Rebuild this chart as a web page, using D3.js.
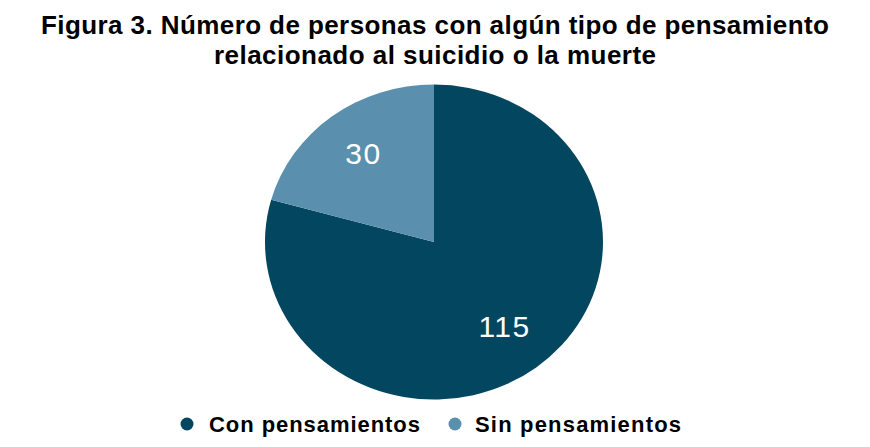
<!DOCTYPE html>
<html>
<head>
<meta charset="utf-8">
<script src="https://cdn.jsdelivr.net/npm/d3@7"></script>
<style>
  body { margin: 0; background: #fff; }
  svg { display: block; font-family: "Liberation Sans", Arial, sans-serif; }
</style>
</head>
<body>
<div id="chart"></div>
<script>
// chart data
const categories = ["Con pensamientos", "Sin pensamientos"];
const values = [115, 30];
const sliceColors = ["#03465f", "#5a90ae"];
const titleLines = [
  "Figura 3. Número de personas con algún tipo de pensamiento",
  "relacionado al suicidio o la muerte"
];

const width = 870, height = 447;
const cx = 434, cy = 242;
const rx = 169, ry = 157.5;

const svg = d3.select('#chart')
  .append('svg')
  .attr('width', width)
  .attr('height', height);

// title (the original renders wider, so stretch the spacing a little)
const titleWidths = [788, 442];
svg.append('g')
  .selectAll('text')
  .data(titleLines)
  .enter()
  .append('text')
  .attr('x', width / 2)
  .attr('y', (d, i) => 34 + i * 30)
  .attr('text-anchor', 'middle')
  .attr('font-size', 26)
  .attr('font-weight', 'bold')
  .attr('fill', '#000')
  .attr('textLength', (d, i) => titleWidths[i])
  .attr('lengthAdjust', 'spacing')
  .text(d => d);

const dataset = categories.map((c, i) => ({ label: c, count: values[i] }));

const color = d3.scaleOrdinal()
  .domain(categories)
  .range(sliceColors);

const pie = d3.pie()
  .value(d => d.count)
  .sort(null);

const arc = d3.arc()
  .innerRadius(0)
  .outerRadius(rx);

const labelArc = d3.arc()
  .innerRadius(rx * 0.69)
  .outerRadius(rx * 0.69);

// the original pie is slightly squashed vertically
const g = svg.append('g')
  .attr('transform', `translate(${cx},${cy}) scale(1,${ry / rx})`);

const arcs = pie(dataset);

g.selectAll('path')
  .data(arcs)
  .enter()
  .append('path')
  .attr('d', arc)
  .attr('fill', d => color(d.data.label));

svg.append('g')
  .selectAll('text')
  .data(arcs)
  .enter()
  .append('text')
  .attr('transform', d => {
    const [x, y] = labelArc.centroid(d);
    return `translate(${cx + x},${cy + y * ry / rx})`;
  })
  .attr('text-anchor', 'middle')
  .attr('dy', '0.28em')
  .attr('font-size', 30)
  .attr('letter-spacing', 1.5)
  .attr('fill', '#fff')
  .text(d => d.data.count);

// legend
const legendX = [187, 455];
const legendWidths = [211, 206];
const legend = svg.selectAll('.legend')
  .data(categories)
  .enter()
  .append('g')
  .attr('class', 'legend')
  .attr('transform', (d, i) => `translate(${legendX[i]},424)`);

legend.append('circle')
  .attr('r', 6.5)
  .attr('fill', d => color(d));

legend.append('text')
  .attr('x', (d, i) => i === 0 ? 22 : 20)
  .attr('y', 8)
  .attr('font-size', 22)
  .attr('font-weight', 'bold')
  .attr('fill', '#000')
  .attr('textLength', (d, i) => legendWidths[i])
  .attr('lengthAdjust', 'spacing')
  .text(d => d);
</script>
</body>
</html>
